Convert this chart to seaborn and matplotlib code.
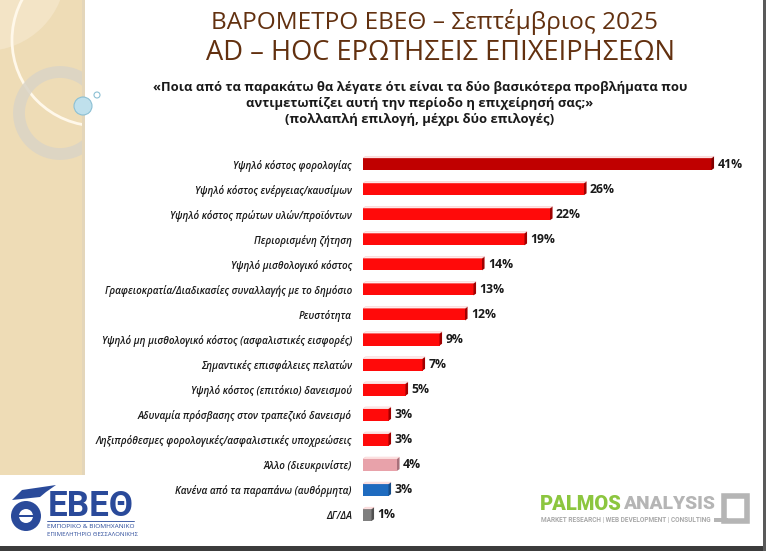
import matplotlib
matplotlib.use("Agg")
import matplotlib.pyplot as plt
import matplotlib.patches as mpatches
import seaborn as sns
import pandas as pd

categories = [
    "Υψηλό κόστος φορολογίας",
    "Υψηλό κόστος ενέργειας/καυσίμων",
    "Υψηλό κόστος πρώτων υλών/προϊόντων",
    "Περιορισμένη ζήτηση",
    "Υψηλό μισθολογικό κόστος",
    "Γραφειοκρατία/Διαδικασίες συναλλαγής με το δημόσιο",
    "Ρευστότητα",
    "Υψηλό μη μισθολογικό κόστος (ασφαλιστικές εισφορές)",
    "Σημαντικές επισφάλειες πελατών",
    "Υψηλό κόστος (επιτόκιο) δανεισμού",
    "Αδυναμία πρόσβασης στον τραπεζικό δανεισμό",
    "Ληξιπρόθεσμες φορολογικές/ασφαλιστικές υποχρεώσεις",
    "Άλλο (διευκρινίστε)",
    "Κανένα από τα παραπάνω (αυθόρμητα)",
    "ΔΓ/ΔΑ",
]
values = [41, 26, 22, 19, 14, 13, 12, 9, 7, 5, 3, 3, 4, 3, 1]
bar_colors = ["#C00000"] + ["#FF0A0A"] * 11 + ["#E8A2AA", "#1F6BBF", "#7F7F7F"]
side_colors = ["#800000"] + ["#A00000"] * 11 + ["#A8707A", "#164C88", "#505050"]

title1 = "ΒΑΡΟΜΕΤΡΟ ΕΒΕΘ – Σεπτέμβριος 2025"
title2 = "AD – HOC ΕΡΩΤΗΣΕΙΣ ΕΠΙΧΕΙΡΗΣΕΩΝ"
question = ["«Ποια από τα παρακάτω θα λέγατε ότι είναι τα δύο βασικότερα προβλήματα που",
            "αντιμετωπίζει αυτή την περίοδο η επιχείρησή σας;»",
            "(πολλαπλή επιλογή, μέχρι δύο επιλογές)"]

sns.set_theme(style="white")
plt.rcParams["font.family"] = ["Open Sans", "DejaVu Sans"]

W, H = 766, 551
fig = plt.figure(figsize=(W / 100, H / 100), dpi=100)
fig.patch.set_facecolor("white")
renderer = fig.canvas.get_renderer()

def fx(px):
    return px / W

def fy(py):
    return 1 - py / H

def fit_text(x, y, s, width_px, ha="left", **kw):
    t = fig.text(fx(x), fy(y), s, ha=ha, va="center", fontsize=10, **kw)
    w = t.get_window_extent(renderer=renderer).width
    t.set_fontsize(10 * width_px / w)
    return t

panel = mpatches.Rectangle((0, fy(475)), fx(82), 475 / H, transform=fig.transFigure)

def circ(cx, cy, r, clip=False, **kw):
    e = mpatches.Ellipse((fx(cx), fy(cy)), 2 * r / W, 2 * r / H, transform=fig.transFigure, **kw)
    fig.patches.append(e)
    if clip:
        e.set_clip_path(panel)
    return e

# background decoration (left beige panel)
fig.patches.append(mpatches.Rectangle((0, fy(475)), fx(82), 475 / H, transform=fig.transFigure,
                                      facecolor="#EEDCB6", edgecolor="none", zorder=0))
fig.patches.append(mpatches.Rectangle((fx(82), fy(475)), fx(3), 475 / H, transform=fig.transFigure,
                                      facecolor="#E4D6BA", edgecolor="none", zorder=0))
circ(-15, -30, 81, clip=True, facecolor="#F3E4C6", edgecolor="none", zorder=0.5)
circ(98, 40, 86, clip=True, facecolor="none", edgecolor="#FFF8EA", lw=2.0, zorder=0.6)
circ(60, 113, 41, clip=True, facecolor="none", edgecolor="#DAD4C6", lw=8.5, alpha=0.85, zorder=0.6)
circ(83, 106, 9, facecolor="#BFE0EC", edgecolor="#8CC0D4", lw=0.8, zorder=0.7)
circ(97, 95, 3, facecolor="white", edgecolor="#8CC0D4", lw=0.8, zorder=0.7)
# frame strips
fig.patches.append(mpatches.Rectangle((0, 0), 1, 5 / H, transform=fig.transFigure,
                                      facecolor="#3C3C3C", edgecolor="none", zorder=0))
fig.patches.append(mpatches.Rectangle((fx(763), 0), fx(3), 1, transform=fig.transFigure,
                                      facecolor="#5A5A5A", edgecolor="none", zorder=0))

# titles
fit_text(434, 22, title1, 445, ha="center", color="#62300F")
fit_text(440, 53, title2, 470, ha="center", color="#62300F")
for i, line in enumerate(question):
    fig.text(fx(420), fy(87 + i * 16), line, ha="center", va="center", fontsize=9.4,
             fontweight="bold", color="#1A1A1A")

# chart
ax = fig.add_axes([fx(363), fy(527.5), 425 / W, 376 / H])
df = pd.DataFrame({"cat": categories, "val": values})
sns.barplot(data=df, x="val", y="cat", hue="cat", palette=bar_colors, legend=False,
            orient="h", width=0.48, ax=ax, saturation=1, edgecolor="none")
ax.set_xlim(0, 50)
ax.set_xlabel("")
ax.set_ylabel("")
ax.set_xticks([])
sns.despine(ax=ax, left=True, bottom=True)
ax.tick_params(axis="y", length=0, pad=8)
for lab in ax.get_yticklabels():
    lab.set_fontstyle("italic")
    lab.set_fontweight("semibold")
    lab.set_fontsize(7.1)
    lab.set_color("#1A1A1A")

for p, sc, v in zip(ax.patches, side_colors, values):
    x1 = p.get_x() + p.get_width()
    y0 = p.get_y()
    h = p.get_height()
    ax.add_patch(mpatches.Polygon([(x1, y0 + h), (x1 + 0.3, y0 + h - 0.07), (x1 + 0.3, y0 - 0.07), (x1, y0)],
                                  closed=True, facecolor=sc, edgecolor="none"))
    ax.add_patch(mpatches.Polygon([(p.get_x(), y0), (x1, y0), (x1 + 0.3, y0 - 0.07), (p.get_x() + 0.3, y0 - 0.07)],
                                  closed=True, facecolor="#FFE0E0", edgecolor="#F2B0B0", lw=0.4, alpha=0.6))
    ax.text(x1 + 0.7, y0 + h / 2, f"{v}%", ha="left", va="center", fontsize=8.8,
            fontweight="bold", color="#1A1A1A")

# logos
fit_text(48, 507, "ΕΒΕΘ", 86, fontweight="bold", color="#2A4A9A", family=["Roboto", "DejaVu Sans"])
fit_text(47, 526, "ΕΜΠΟΡΙΚΟ & ΒΙΟΜΗΧΑΝΙΚΟ", 87, color="#2A4A9A")
fit_text(47, 534, "ΕΠΙΜΕΛΗΤΗΡΙΟ ΘΕΣΣΑΛΟΝΙΚΗΣ", 90, color="#2A4A9A")
fig.lines.append(plt.Line2D([fx(47), fx(134)], [fy(521), fy(521)], transform=fig.transFigure,
                            color="#2A4A9A", lw=0.6))
circ(26, 516, 15, facecolor="#2A4A9A", edgecolor="none", zorder=1)
circ(26, 516, 7, facecolor="white", edgecolor="none", zorder=1.1)
fig.patches.append(mpatches.Rectangle((fx(19), fy(516.5)), fx(14), 1.5 / H, transform=fig.transFigure,
                                      facecolor="#2A4A9A", edgecolor="none", zorder=1.2))
fig.patches.append(mpatches.Polygon([[fx(12), fy(500)], [fx(22), fy(490)], [fx(56), fy(485)],
                                     [fx(46), fy(492)], [fx(40), fy(497)]],
                                    closed=True, transform=fig.transFigure, facecolor="#2A4A9A",
                                    edgecolor="none"))

fit_text(540, 504, "PALMOS", 82, fontweight="black", color="#8CC63F", family=["Roboto", "DejaVu Sans"])
fit_text(623, 504, "ANALYSIS", 92, fontweight="black", color="#B5B5B5", family=["Roboto", "DejaVu Sans"])
fit_text(541, 520, "MARKET RESEARCH | WEB DEVELOPMENT | CONSULTING", 172, fontweight="bold",
         color="#A8A8A8", family=["Roboto", "DejaVu Sans"])
fig.patches.append(mpatches.Rectangle((fx(714), fy(522)), fx(14), 4 / H, transform=fig.transFigure,
                                      facecolor="#B5B5B5", edgecolor="none"))
fig.patches.append(mpatches.Rectangle((fx(724), fy(521)), fx(23), 25 / H, transform=fig.transFigure,
                                      facecolor="none", edgecolor="#B5B5B5", lw=4))

fig.savefig("out.png", dpi=100)
